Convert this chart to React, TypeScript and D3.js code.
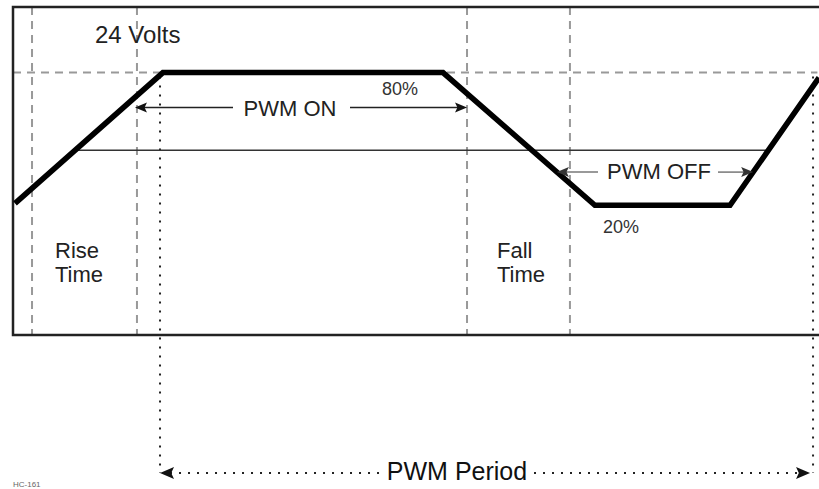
import { scaleLinear, line } from 'd3'

// waveform corners: time in % of the frame width, level in volts
const waveT = [0.25, 18.6, 53.35, 72.2, 88.96, 100]
const waveV = [12.04, 24, 24, 11.86, 11.86, 23.54]

// grid markers
const dashedT = [2.36, 15.38, 56.33, 69.1]
const periodT = [18.24, 99.26]
const fullV = 24
const midV = 16.9
const frameTopV = 30

// annotation levels
const onArrowV = 20.8
const offArrowV = 14.9
const onArrowT = [15.38, 56.33]

const labels = {
  volts: '24 Volts',
  on: 'PWM ON',
  off: 'PWM OFF',
  high: '80%',
  low: '20%',
  period: 'PWM Period',
  code: 'HC-161',
}

const W = 819
const H = 489

function crossing(seg: number, v: number) {
  const t0 = waveT[seg]
  const t1 = waveT[seg + 1]
  const v0 = waveV[seg]
  const v1 = waveV[seg + 1]
  return t0 + ((v - v0) / (v1 - v0)) * (t1 - t0)
}

function Head({ x, y, dir, len = 12, half = 5, fill = '#111' }: { x: number; y: number; dir: 1 | -1; len?: number; half?: number; fill?: string }) {
  return <polygon points={`${x},${y} ${x - dir * len},${y - half} ${x - dir * len * 0.8},${y} ${x - dir * len},${y + half}`} fill={fill} />
}

export default function App() {
  const x = scaleLinear().domain([0, 100]).range([13, 819])
  const y = scaleLinear().domain([0, frameTopV]).range([335, 7])
  const bottomY = y(0)
  const periodY = 473
  const font = '"Liberation Sans", Arial, Helvetica, sans-serif'

  const wavePath = line<number>()
    .x((_, i) => x(waveT[i]))
    .y((d) => y(d))(waveV)

  const midStart = crossing(0, midV)
  const midEnd = crossing(4, midV)
  const offStart = crossing(2, offArrowV)
  const offEnd = crossing(4, offArrowV)

  const onY = y(onArrowV)
  const offY = y(offArrowV)

  return (
    <svg width={W} height={H} style={{ position: 'absolute', left: 0, top: 0, background: '#fff' }} fontFamily={font}>
      <rect x={0} y={0} width={W} height={H} fill="#fff" />
      {dashedT.map((t) => (
        <line key={t} x1={x(t)} x2={x(t)} y1={y(frameTopV)} y2={bottomY} stroke="#999" strokeWidth={2} strokeDasharray="8 6" />
      ))}
      <line x1={x(0)} x2={x(99.8)} y1={y(fullV)} y2={y(fullV)} stroke="#999" strokeWidth={2} strokeDasharray="8 6" />
      {periodT.map((t) => (
        <line key={t} x1={x(t)} x2={x(t)} y1={y(fullV) + 4} y2={periodY} stroke="#222" strokeWidth={2} strokeDasharray="2 7" />
      ))}
      <line x1={x(midStart)} x2={x(midEnd)} y1={y(midV)} y2={y(midV)} stroke="#333" strokeWidth={1.5} />

      {/* frame */}
      <path d={`M${W + 4},${y(frameTopV)} H${x(0)} V${bottomY} H${W + 4}`} fill="none" stroke="#222" strokeWidth={2.5} />

      <path d={wavePath ?? ''} fill="none" stroke="#000" strokeWidth={5.5} strokeLinejoin="miter" />

      {/* PWM ON */}
      <line x1={x(onArrowT[0]) + 6} x2={233} y1={onY} y2={onY} stroke="#222" strokeWidth={1.5} />
      <line x1={350} x2={x(onArrowT[1]) - 6} y1={onY} y2={onY} stroke="#222" strokeWidth={1.5} />
      <Head x={x(onArrowT[0]) - 2} y={onY} dir={-1} />
      <Head x={x(onArrowT[1])} y={onY} dir={1} />
      <text x={290} y={onY + 8} textAnchor="middle" fontSize={22} fill="#222">{labels.on}</text>
      <text x={382} y={95} fontSize={18} fill="#333">{labels.high}</text>

      {/* PWM OFF */}
      <line x1={x(offStart) + 6} x2={598} y1={offY} y2={offY} stroke="#777" strokeWidth={1.5} />
      <line x1={718} x2={x(offEnd) - 6} y1={offY} y2={offY} stroke="#777" strokeWidth={1.5} />
      <Head x={x(offStart)} y={offY} dir={-1} fill="#333" />
      <Head x={x(offEnd)} y={offY} dir={1} fill="#333" />
      <text x={659} y={offY + 7} textAnchor="middle" fontSize={22} fill="#222">{labels.off}</text>
      <text x={603} y={233} fontSize={18} fill="#333">{labels.low}</text>

      <text x={95} y={43} fontSize={24} fill="#222">{labels.volts}</text>

      <text x={55} y={258} fontSize={22} fill="#222">Rise</text>
      <text x={55} y={282} fontSize={22} fill="#222">Time</text>
      <text x={497} y={258} fontSize={22} fill="#222">Fall</text>
      <text x={497} y={282} fontSize={22} fill="#222">Time</text>

      {/* PWM period */}
      <line x1={x(periodT[0]) + 10} x2={380} y1={periodY} y2={periodY} stroke="#222" strokeWidth={2} strokeDasharray="2 7" />
      <line x1={534} x2={x(periodT[1]) - 12} y1={periodY} y2={periodY} stroke="#222" strokeWidth={2} strokeDasharray="2 7" />
      <Head x={x(periodT[0])} y={periodY} dir={-1} len={14} half={6} />
      <Head x={x(periodT[1]) - 3} y={periodY} dir={1} len={14} half={6} />
      <text x={457} y={480} textAnchor="middle" fontSize={25} fill="#111">{labels.period}</text>

      <text x={13} y={487} fontSize={8} fill="#666">{labels.code}</text>
    </svg>
  )
}
